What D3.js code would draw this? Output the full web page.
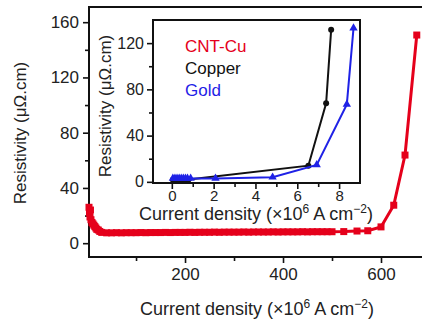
<!DOCTYPE html>
<html>
<head>
<meta charset="utf-8">
<script src="https://cdn.jsdelivr.net/npm/d3@7"></script>
<style>
  body { margin: 0; background: #fff; }
  text { font-family: "Liberation Sans", Arial, sans-serif; }
</style>
</head>
<body>
<div id="chart"></div>
<script>
// CNT-Cu (main plot)
var cntX = [4, 5, 6, 7, 8, 10, 12, 14, 16, 18, 20, 23, 26, 30,
  40, 50, 60, 70, 80, 90, 100, 110, 120, 130, 140, 150, 160, 170, 180, 190,
  200, 210, 220, 230, 240, 250, 260, 270, 280, 290, 300, 310, 320, 330, 340,
  350, 360, 370, 380, 390, 400, 410, 420, 430, 440, 450, 460, 470, 480, 490,
  500, 524, 551, 573, 600, 626, 649, 673];
var cntY = [26, 22, 19, 24, 17, 15, 14, 13, 12, 11, 10, 9.5, 8.5, 7.8,
  7.5, 7.5, 7.6, 7.5, 7.6, 7.6, 7.6, 7.7, 7.6, 7.7, 7.7, 7.7, 7.8, 7.7, 7.8, 7.8,
  7.8, 7.9, 7.8, 7.9, 7.9, 7.9, 8.0, 7.9, 8.0, 8.0, 8.0, 8.0, 8.1, 8.0, 8.1,
  8.1, 8.1, 8.1, 8.2, 8.1, 8.2, 8.2, 8.2, 8.2, 8.3, 8.2, 8.3, 8.3, 8.3, 8.3,
  8.3, 8.4, 8.8, 9.0, 11.8, 27.5, 63.8, 150.7];

// inset: Copper and Gold
var copperX = [0.05, 0.2, 0.35, 0.5, 0.65, 0.8, 6.53, 7.38, 7.62];
var copperY = [1.8, 1.8, 1.8, 1.9, 1.9, 2.0, 14, 68, 131.5];
var goldX = [0.05, 0.15, 0.25, 0.35, 0.45, 0.55, 0.65, 0.75, 0.9, 2.09, 4.82, 6.93, 8.37, 8.69];
var goldY = [3, 3, 3, 3, 3, 3, 3, 3, 3, 3, 4, 14.7, 67, 133];

var mainYTicks = [0, 40, 80, 120, 160];
var mainYMinor = [20, 60, 100, 140];
var mainXTicks = [200, 400, 600];
var mainXMinor = [100, 300, 500, 700];
var insetYTicks = [0, 40, 80, 120];
var insetYMinor = [20, 60, 100];
var insetXTicks = [0, 2, 4, 6, 8];
var insetXMinor = [1, 3, 5, 7];

var legendNames = ["CNT-Cu", "Copper", "Gold"];
var red = "#e5001b", blue = "#1f22e6", black = "#111";
var legendColors = [red, black, blue];

var width = 422, height = 320;

var svg = d3.select("#chart").append("svg")
  .attr("width", width)
  .attr("height", height);

// scales
var x = d3.scaleLinear().domain([4, 700]).range([89, 430]);
var y = d3.scaleLinear().domain([-10, 171]).range([257, 7]);
var xi = d3.scaleLinear().domain([-0.9, 9.0]).range([153, 360]);
var yi = d3.scaleLinear().domain([-1, 140]).range([183, 20]);

function styleAxis(g, size) {
  g.select(".domain").remove();
  g.selectAll("line").attr("stroke", black).attr("stroke-width", 1.6);
  g.selectAll("text").style("font-size", size + "px").attr("fill", "#222");
}

// main axes
svg.append("g").attr("transform", "translate(89,0)")
  .call(d3.axisLeft(y).tickValues(mainYTicks).tickSize(6).tickPadding(4))
  .call(styleAxis, 17);
svg.append("g").attr("transform", "translate(89,0)")
  .call(d3.axisLeft(y).tickValues(mainYMinor).tickSize(4).tickFormat(""))
  .call(styleAxis, 17);
svg.append("g").attr("transform", "translate(0,257)")
  .call(d3.axisBottom(x).tickValues(mainXTicks).tickSize(6).tickPadding(5))
  .call(styleAxis, 17);
svg.append("g").attr("transform", "translate(0,257)")
  .call(d3.axisBottom(x).tickValues(mainXMinor).tickSize(4).tickFormat(""))
  .call(styleAxis, 17);

// main frame
svg.append("rect")
  .attr("x", 89).attr("y", 7)
  .attr("width", 345).attr("height", 250)
  .attr("fill", "none").attr("stroke", black).attr("stroke-width", 2);

// axis titles
svg.append("text")
  .attr("transform", "translate(26,133) rotate(-90)")
  .attr("text-anchor", "middle")
  .style("font-size", "17px").attr("fill", "#222")
  .text("Resistivity (μΩ.cm)");

function densityLabel(sel) {
  sel.append("tspan").text("Current density (×10");
  sel.append("tspan").attr("dy", -7).style("font-size", "12px").text("6");
  sel.append("tspan").attr("dy", 7).text(" A cm");
  sel.append("tspan").attr("dy", -7).style("font-size", "12px").text("−2");
  sel.append("tspan").attr("dy", 7).text(")");
}
svg.append("text")
  .attr("x", 257).attr("y", 315)
  .attr("text-anchor", "middle")
  .style("font-size", "18px").attr("fill", "#222")
  .call(densityLabel);

// CNT-Cu line
var cnt = cntX.map(function(d, i) { return [d, cntY[i]]; });
svg.append("path")
  .datum(cnt)
  .attr("fill", "none").attr("stroke", red).attr("stroke-width", 3)
  .attr("d", d3.line().x(function(d) { return x(d[0]); }).y(function(d) { return y(d[1]); }));
svg.selectAll(".sq").data(cnt).enter().append("rect")
  .attr("x", function(d) { return x(d[0]) - 3.5; })
  .attr("y", function(d) { return y(d[1]) - 3.5; })
  .attr("width", 7).attr("height", 7)
  .attr("fill", red);

// inset
svg.append("rect")
  .attr("x", 153).attr("y", 20)
  .attr("width", 207).attr("height", 163)
  .attr("fill", "#fff");

svg.append("g").attr("transform", "translate(153,0)")
  .call(d3.axisLeft(yi).tickValues(insetYTicks).tickSize(6).tickPadding(3))
  .call(styleAxis, 16);
svg.append("g").attr("transform", "translate(153,0)")
  .call(d3.axisLeft(yi).tickValues(insetYMinor).tickSize(4).tickFormat(""))
  .call(styleAxis, 16);
svg.append("g").attr("transform", "translate(0,183)")
  .call(d3.axisBottom(xi).tickValues(insetXTicks).tickSize(6).tickPadding(1))
  .call(styleAxis, 15);
svg.append("g").attr("transform", "translate(0,183)")
  .call(d3.axisBottom(xi).tickValues(insetXMinor).tickSize(4).tickFormat(""))
  .call(styleAxis, 15);

svg.append("text")
  .attr("transform", "translate(111,106) rotate(-90)")
  .attr("text-anchor", "middle")
  .style("font-size", "17px").attr("fill", "#222")
  .text("Resistivity (μΩ.cm)");
svg.append("text")
  .attr("x", 256).attr("y", 220)
  .attr("text-anchor", "middle")
  .style("font-size", "18px").attr("fill", "#222")
  .call(densityLabel);

var lineI = d3.line().x(function(d) { return xi(d[0]); }).y(function(d) { return yi(d[1]); });

var gold = goldX.map(function(d, i) { return [d, goldY[i]]; });
var copper = copperX.map(function(d, i) { return [d, copperY[i]]; });

svg.append("path").datum(copper)
  .attr("fill", "none").attr("stroke", black).attr("stroke-width", 2)
  .attr("d", lineI);
svg.selectAll(".cu").data(copper).enter().append("circle")
  .attr("cx", function(d) { return xi(d[0]); })
  .attr("cy", function(d) { return yi(d[1]); })
  .attr("r", 3).attr("fill", black);

svg.append("path").datum(gold)
  .attr("fill", "none").attr("stroke", blue).attr("stroke-width", 2)
  .attr("d", lineI);
svg.selectAll(".au").data(gold).enter().append("path")
  .attr("transform", function(d) { return "translate(" + xi(d[0]) + "," + yi(d[1]) + ")"; })
  .attr("d", d3.symbol().type(d3.symbolTriangle).size(30))
  .attr("fill", blue);

svg.append("rect")
  .attr("x", 153).attr("y", 20)
  .attr("width", 207).attr("height", 163)
  .attr("fill", "none").attr("stroke", black).attr("stroke-width", 2);

// legend
svg.selectAll(".leg").data(legendNames).enter().append("text")
  .attr("x", 185)
  .attr("y", function(d, i) { return 52 + i * 22; })
  .style("font-size", "17px")
  .attr("fill", function(d, i) { return legendColors[i]; })
  .text(function(d) { return d; });
</script>
</body>
</html>
